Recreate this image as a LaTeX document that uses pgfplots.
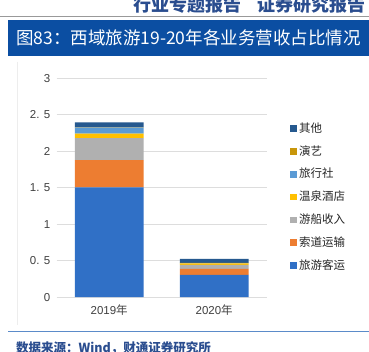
\documentclass[border=0pt]{standalone}
\usepackage{fontspec}
\setmainfont{Liberation Sans}
\newfontfamily\cjk{Noto Sans CJK SC}
\usepackage{pgfplots}
\pgfplotsset{compat=1.18}
\definecolor{hdr}{HTML}{2A4D8F}
\definecolor{banner}{HTML}{0B4EA2}
\definecolor{srcline}{HTML}{5B8BC9}
\definecolor{gridc}{HTML}{DDDDDD}
\definecolor{ticktxt}{HTML}{404040}
\definecolor{cA}{HTML}{3070C6}
\definecolor{cB}{HTML}{ED7D31}
\definecolor{cC}{HTML}{B0B0B0}
\definecolor{cD}{HTML}{FFC000}
\definecolor{cE}{HTML}{5B9BD5}
\definecolor{cF}{HTML}{C8960A}
\definecolor{cG}{HTML}{26598F}
\begin{document}
\begin{tikzpicture}[x=1pt,y=1pt]
\useasboundingbox (0,0) rectangle (369,352);
\clip (0,0) rectangle (369,352);
\fill[white] (0,0) rectangle (369,352);
\node[anchor=east, text=hdr, font=\cjk\bfseries\fontsize{18}{18}\selectfont, inner sep=0pt] at (366,347) {行业专题报告\hspace{0.9em}证券研究报告};
\draw[black!40, line width=1pt] (0,335.3) -- (369,335.3);
\fill[banner] (8,296) rectangle (369,332);
\node[anchor=west, text=white, font=\cjk\fontsize{17.5}{18}\selectfont, inner sep=0pt] at (16,314) {图83：西域旅游19-20年各业务营收占比情况};
\draw[black!7, line width=0.8pt] (17,290) -- (17,27);
\draw[srcline, line width=1.2pt] (8,20.3) -- (369,20.3);
\node[anchor=west, text=hdr, font=\cjk\bfseries\fontsize{12.5}{13}\selectfont, inner sep=0pt] at (16,4) {数据来源：Wind，财通证券研究所};
\begin{axis}[
  at={(54,75)}, anchor=south west,
  scale only axis, width=210pt, height=219pt,
  ybar stacked, bar width=68.7pt,
  xmin=-0.5, xmax=1.5, ymin=0, ymax=3,
  xtick={0,1}, xticklabels={2019{\cjk 年},2020{\cjk 年}},
  ytick={0,0.5,1,1.5,2,2.5,3},
  yticklabels={0,0. 5,1,1. 5,2,2. 5,3},
  ymajorgrids, grid style={gridc, line width=1.3pt},
  axis line style={draw=none}, major tick length=0pt,
  tick label style={font=\fontsize{11.5}{12}\selectfont, text=ticktxt},
  yticklabel style={xshift=-3pt},
  xticklabel style={yshift=-4pt},
  reverse legend,
  legend style={at={(axis description cs:1.096,0.807)}, anchor=north west,
    draw=none, fill=none, font=\cjk\fontsize{11.5}{12}\selectfont, text=black!85,
    row sep=10.3pt, nodes={inner sep=0pt, text height=9.5pt, text depth=3pt},
    /tikz/every even column/.append style={column sep=0pt}},
  legend cell align=left,
  legend image code/.code={\fill[#1] (0pt,-3pt) rectangle (6.5pt,3.5pt);},
]
\addplot[fill=cA, draw=none] coordinates {(0,1.505) (1,0.305)};
\addplot[fill=cB, draw=none] coordinates {(0,0.374) (1,0.082)};
\addplot[fill=cC, draw=none] coordinates {(0,0.300) (1,0.055)};
\addplot[fill=cD, draw=none] coordinates {(0,0.064) (1,0.023)};
\addplot[fill=cE, draw=none] coordinates {(0,0.080) (1,0.003)};
\addplot[fill=cF, draw=none] coordinates {(0,0.004) (1,0.003)};
\addplot[fill=cG, draw=none] coordinates {(0,0.070) (1,0.055)};
\legend{\ 旅游客运,\ 索道运输,\ 游船收入,\ 温泉酒店,\ 旅行社,\ 演艺,\ 其他}
\end{axis}
\end{tikzpicture}
\end{document}
